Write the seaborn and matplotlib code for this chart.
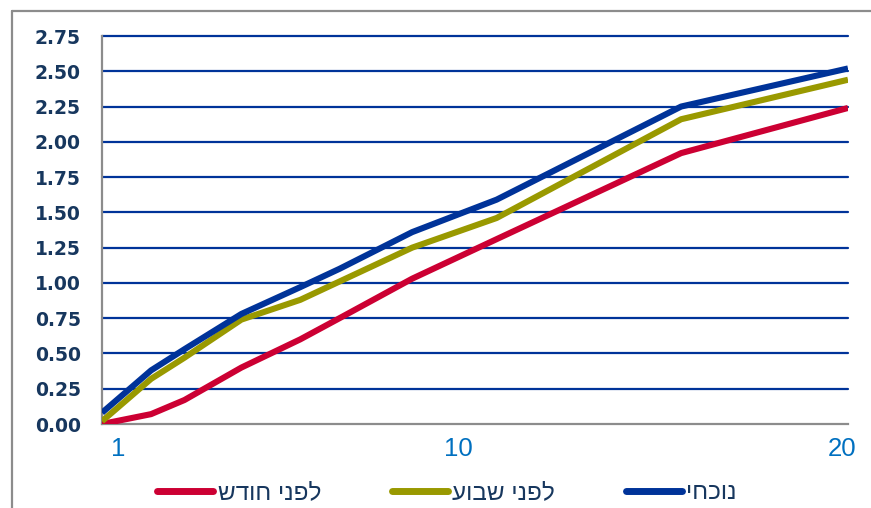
import numpy as np
import pandas as pd
import matplotlib
matplotlib.use("Agg")
import matplotlib.pyplot as plt
import matplotlib.transforms as mtransforms
from matplotlib.lines import Line2D
import seaborn as sns

# Maturity (years) and yield for each curve
maturity = [1.0, 2.25, 3.1, 4.55, 6.05, 7.05, 8.9, 11.05, 15.75, 20.0]
month_ago = [0.00, 0.07, 0.17, 0.40, 0.60, 0.75, 1.03, 1.31, 1.92, 2.24]
week_ago = [0.02, 0.32, 0.47, 0.74, 0.88, 1.01, 1.25, 1.46, 2.16, 2.44]
current = [0.08, 0.38, 0.53, 0.78, 0.97, 1.10, 1.36, 1.59, 2.25, 2.52]

series_names = ["לפני חודש", "לפני שבוע", "נוכחי"]
series_values = [month_ago, week_ago, current]
series_colors = ["#cc0033", "#999900", "#003399"]

y_ticks = [0.0, 0.25, 0.5, 0.75, 1.0, 1.25, 1.5, 1.75, 2.0, 2.25, 2.5, 2.75]
x_labels = ["1", "10", "20"]
x_label_pos = [1, 10, 20]


def visual(s):
    # matplotlib lays text out left-to-right; reverse Hebrew for display
    return s[::-1]


df = pd.concat(
    [pd.DataFrame({"maturity": maturity, "yield": v, "series": n})
     for n, v in zip(series_names, series_values)],
    ignore_index=True,
)

sns.set_theme(style="white")
plt.rcParams["font.family"] = ["DejaVu Sans"]

fig = plt.figure(figsize=(8.71, 5.08), dpi=100)
ax = fig.add_axes([102 / 871, 1 - 424 / 508, 746 / 871, 388 / 508])

grid_color = "#003399"
axis_gray = "#8c8c8c"

for yv in y_ticks[1:]:
    ax.axhline(yv, color=grid_color, lw=1.6, zorder=1, clip_on=False)

palette = dict(zip(series_names, series_colors))
sns.lineplot(data=df, x="maturity", y="yield", hue="series", palette=palette,
             hue_order=series_names, lw=4.4, ax=ax, legend=False, zorder=3,
             solid_joinstyle="round", solid_capstyle="butt")

ax.set_xlim(1, 20)
ax.set_ylim(0, 2.75)
ax.set_xlabel("")
ax.set_ylabel("")

for side in ["top", "right"]:
    ax.spines[side].set_visible(False)
for side in ["left", "bottom"]:
    ax.spines[side].set_color(axis_gray)
    ax.spines[side].set_linewidth(1.6)
    ax.spines[side].set_zorder(2)

# y axis
ax.set_yticks(y_ticks)
ax.set_yticklabels([f"{v:.2f}" for v in y_ticks])
ax.tick_params(axis="y", direction="out", length=4.3, width=1.3, color=axis_gray,
               pad=11, labelsize=13.5, labelcolor="#17375e")
for lab in ax.get_yticklabels():
    lab.set_fontweight("bold")

# x axis: tick marks every ~4.23 years, labels at 1, 10, 20
minor_pos = [1 + k * 19 * 166 / 746 for k in range(5)]
ax.set_xticks(minor_pos, minor=True)
ax.set_xticks(x_label_pos)
ax.set_xticklabels(x_labels)
ax.tick_params(axis="x", which="minor", direction="out", length=5.8, width=1.3,
               color=axis_gray)
ax.tick_params(axis="x", which="major", length=0, pad=9, labelsize=18.5,
               labelcolor="#0070c0")
offsets_px = [16, 3, -6]
for lab, dx in zip(ax.get_xticklabels(), offsets_px):
    lab.set_fontfamily(["Liberation Sans", "DejaVu Sans"])
    lab.set_transform(lab.get_transform() +
                      mtransforms.ScaledTranslation(dx / 100, 0, fig.dpi_scale_trans))

# legend along the bottom
handles = [Line2D([0], [0], color=c, lw=5, solid_capstyle="round") for c in series_colors]
leg = fig.legend(handles, [visual(n) for n in series_names], ncol=3,
                 loc="center left", bbox_to_anchor=(157 / 871, 1 - 493 / 508),
                 frameon=False, handlelength=2.3, handletextpad=0.2,
                 columnspacing=2.9, borderpad=0, borderaxespad=0,
                 prop={"family": ["Liberation Sans", "DejaVu Sans"], "size": 17.5})
for t in leg.get_texts():
    t.set_color("#17375e")

# outer chart frame
fig.add_artist(Line2D([12 / 871, 12 / 871], [-0.1, 1 - 11 / 508], color=axis_gray,
                      lw=1.6, transform=fig.transFigure))
fig.add_artist(Line2D([12 / 871, 1.1], [1 - 11 / 508, 1 - 11 / 508], color=axis_gray,
                      lw=1.6, transform=fig.transFigure))

fig.savefig("out.png", dpi=100)
